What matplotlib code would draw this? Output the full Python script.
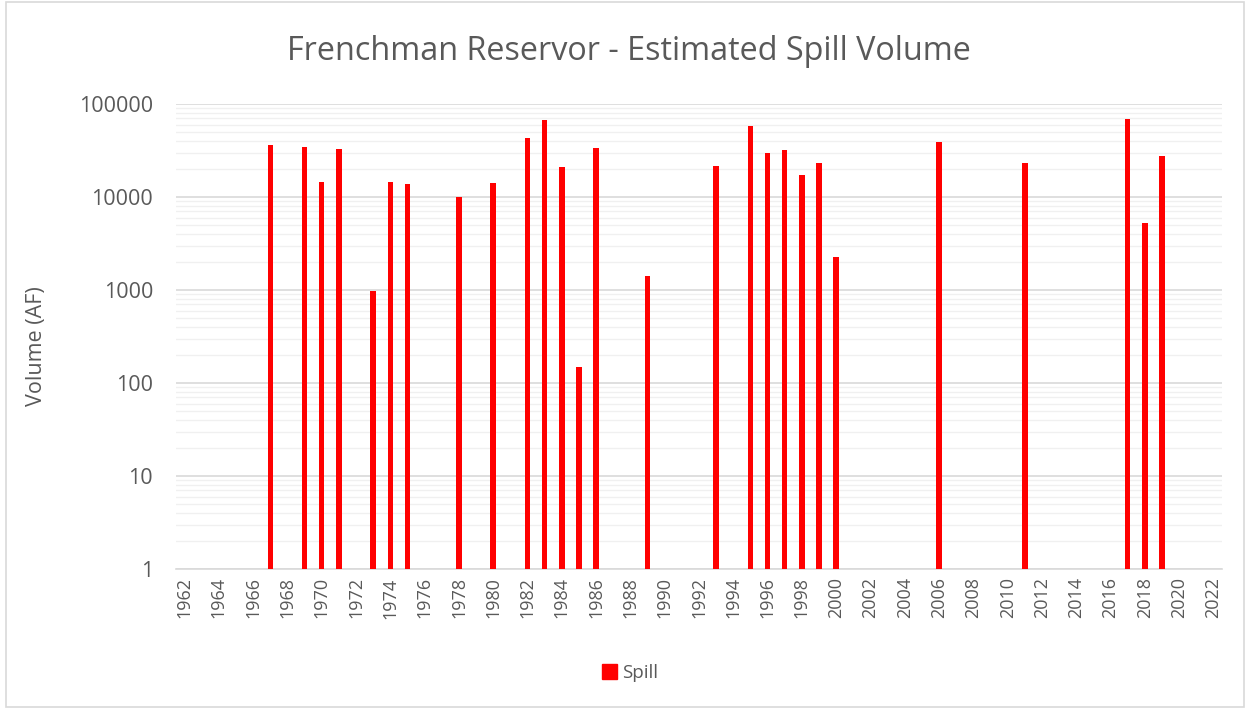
import numpy as np
import matplotlib
matplotlib.use("Agg")
import matplotlib.pyplot as plt
import matplotlib.patches as mpatches
from matplotlib.ticker import FixedLocator, LogLocator, NullFormatter

plt.rcParams["font.family"] = ["Open Sans", "DejaVu Sans"]

# ---------------------------------------------------------------------------
# Data
# ---------------------------------------------------------------------------
years = list(range(1962, 2023))
spill_years = [1967, 1969, 1970, 1971, 1973, 1974, 1975, 1978, 1980, 1982,
               1983, 1984, 1985, 1986, 1989, 1993, 1995, 1996, 1997, 1998,
               1999, 2000, 2006, 2011, 2017, 2018, 2019]
spill_volume = [36100, 34600, 14600, 32700, 980, 14600, 13900, 10000, 14000,
                43000, 67200, 20900, 147, 33800, 1430, 21400, 57900, 29800,
                31900, 17100, 23100, 2240, 39200, 23100, 69400, 5200, 27500]

title = "Frenchman Reservor - Estimated Spill Volume"
ylabel = "Volume (AF)"
series_name = "Spill"

TXT = "#595959"
RED = "#ff0000"

# ---------------------------------------------------------------------------
# Figure
# ---------------------------------------------------------------------------
fig = plt.figure(figsize=(12.5, 7.09), dpi=100)
ax = fig.add_axes([176 / 1250, 1 - 569 / 709, 1046 / 1250, 465 / 709])

xpos = [years.index(y) for y in spill_years]
ax.bar(xpos, spill_volume, width=0.32, color=RED, zorder=3)

ax.set_yscale("log")
ax.set_ylim(1, 100000)
ax.set_xlim(-0.5, len(years) - 0.5)

# y ticks / grid
ax.yaxis.set_major_locator(FixedLocator([1, 10, 100, 1000, 10000, 100000]))
ax.yaxis.set_minor_locator(LogLocator(base=10, subs=np.arange(2, 10)))
ax.yaxis.set_minor_formatter(NullFormatter())
ax.set_yticklabels(["1", "10", "100", "1000", "10000", "100000"])
ax.grid(which="major", axis="y", color="#d9d9d9", linewidth=1.2, zorder=0)
ax.grid(which="minor", axis="y", color="#f0f0f0", linewidth=1.0, zorder=0)
ax.tick_params(axis="y", which="both", length=0, pad=16.5, labelsize=15.5,
               labelcolor=TXT)

# x ticks
ax.set_xticks(range(0, len(years), 2))
ax.set_xticklabels([str(y) for y in years[::2]], rotation=90)
ax.tick_params(axis="x", length=0, pad=6, labelsize=13, labelcolor=TXT)

for s in ["top", "right", "left"]:
    ax.spines[s].set_visible(False)
ax.spines["bottom"].set_color("#d9d9d9")
ax.spines["bottom"].set_linewidth(1.2)

ax.set_ylabel(ylabel, fontsize=15.5, color=TXT)
ax.yaxis.set_label_coords(-0.123, 0.48)

fig.text(0.503, 1 - 51 / 709, title, ha="center", va="center",
         fontsize=23.3, color=TXT)

handle = mpatches.Patch(color=RED, label=series_name)
fig.legend(handles=[handle], loc="center", bbox_to_anchor=(0.504, 1 - 673 / 709),
           frameon=False, fontsize=13.5, labelcolor=TXT, handlelength=0.8,
           handleheight=0.8, handletextpad=0.3)

# light chart-area border
fig.patches.append(mpatches.Rectangle((6 / 1250, 2 / 709), 1 - 12 / 1250,
                                      1 - 4 / 709, transform=fig.transFigure,
                                      fill=False, edgecolor="#d9d9d9",
                                      linewidth=1.2))

fig.savefig("out.png", dpi=100)
